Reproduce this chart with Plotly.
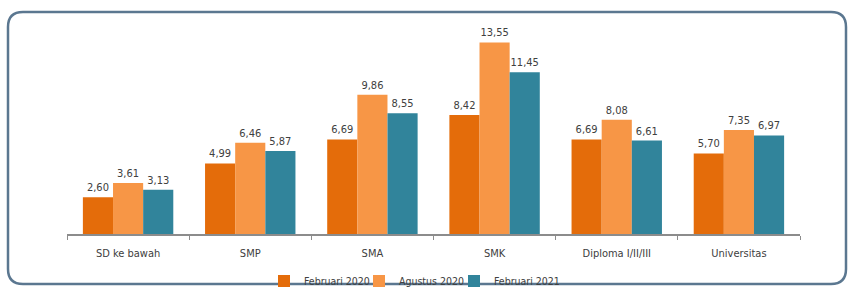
import plotly.graph_objects as go

categories = ["SD ke bawah", "SMP", "SMA", "SMK", "Diploma I/II/III", "Universitas"]
feb_2020 = [2.60, 4.99, 6.69, 8.42, 6.69, 5.70]
agu_2020 = [3.61, 6.46, 9.86, 13.55, 8.08, 7.35]
feb_2021 = [3.13, 5.87, 8.55, 11.45, 6.61, 6.97]
series_names = ["Februari 2020", "Agustus 2020", "Februari 2021"]
series_colors = ["#E46C0A", "#F79646", "#31849B"]

W, H = 848, 288
L, R, T, B = 67, 48, 22, 54
PW, PH = W - L - R, H - T - B

FONT = "DejaVu Sans Condensed, Liberation Sans Narrow, Arial Narrow, sans-serif"

legend_ids = ["legend", "legend2", "legend3"]
legend_left_px = [264, 359, 454]

fig = go.Figure()
for name, vals, col, lid in zip(series_names, [feb_2020, agu_2020, feb_2021], series_colors, legend_ids):
    fig.add_trace(go.Bar(
        x=categories, y=vals, name=name, legend=lid,
        marker=dict(color=col, line=dict(width=0)),
        texttemplate="%{y:.2f}", textposition="outside",
        textfont=dict(family=FONT, size=11, color="#404040"),
        cliponaxis=False,
    ))

def px(x):
    return (x - L) / PW

def py(y):
    return (H - B - y) / PH

x0, x1, y0, y1, r = 8, 846, 12, 284, 15
path = (
    f"M{px(x0+r)},{py(y0)} L{px(x1-r)},{py(y0)} Q{px(x1)},{py(y0)} {px(x1)},{py(y0+r)} "
    f"L{px(x1)},{py(y1-r)} Q{px(x1)},{py(y1)} {px(x1-r)},{py(y1)} "
    f"L{px(x0+r)},{py(y1)} Q{px(x0)},{py(y1)} {px(x0)},{py(y1-r)} "
    f"L{px(x0)},{py(y0+r)} Q{px(x0)},{py(y0)} {px(x0+r)},{py(y0)} Z"
)

legends = {}
for lid, lx in zip(legend_ids, legend_left_px):
    legends[lid] = dict(
        orientation="h", xref="container", yref="container",
        x=lx / W, xanchor="left", y=1 - 281 / H, yanchor="middle",
        font=dict(family=FONT, size=10.5, color="#404040"),
        itemwidth=30, bgcolor="rgba(0,0,0,0)", borderwidth=0,
    )

fig.update_layout(
    width=W, height=H,
    margin=dict(l=L, r=R, t=T, b=B, autoexpand=False),
    paper_bgcolor="white", plot_bgcolor="white",
    barmode="group", bargap=0.26, bargroupgap=0,
    separators=",.",
    font=dict(family=FONT, size=11, color="#404040"),
    showlegend=True,
    xaxis=dict(
        showline=True, linecolor="#8C8C8C", linewidth=1.5,
        ticks="outside", tickson="boundaries", ticklen=4, tickcolor="#8C8C8C",
        tickfont=dict(family=FONT, size=11, color="#404040"),
        ticklabelstandoff=8, automargin=False,
        showgrid=False, fixedrange=True,
    ),
    yaxis=dict(
        range=[0, 15], visible=False, showgrid=False, fixedrange=True,
    ),
    shapes=[dict(
        type="path", xref="paper", yref="paper", path=path,
        line=dict(color="#5B7790", width=2.5), fillcolor="rgba(0,0,0,0)", layer="below",
    )],
    **legends,
)

fig.write_html(
    "out.html",
    config={"displayModeBar": False},
    post_script="document.body.style.margin='0px';document.body.style.overflow='hidden';",
)
